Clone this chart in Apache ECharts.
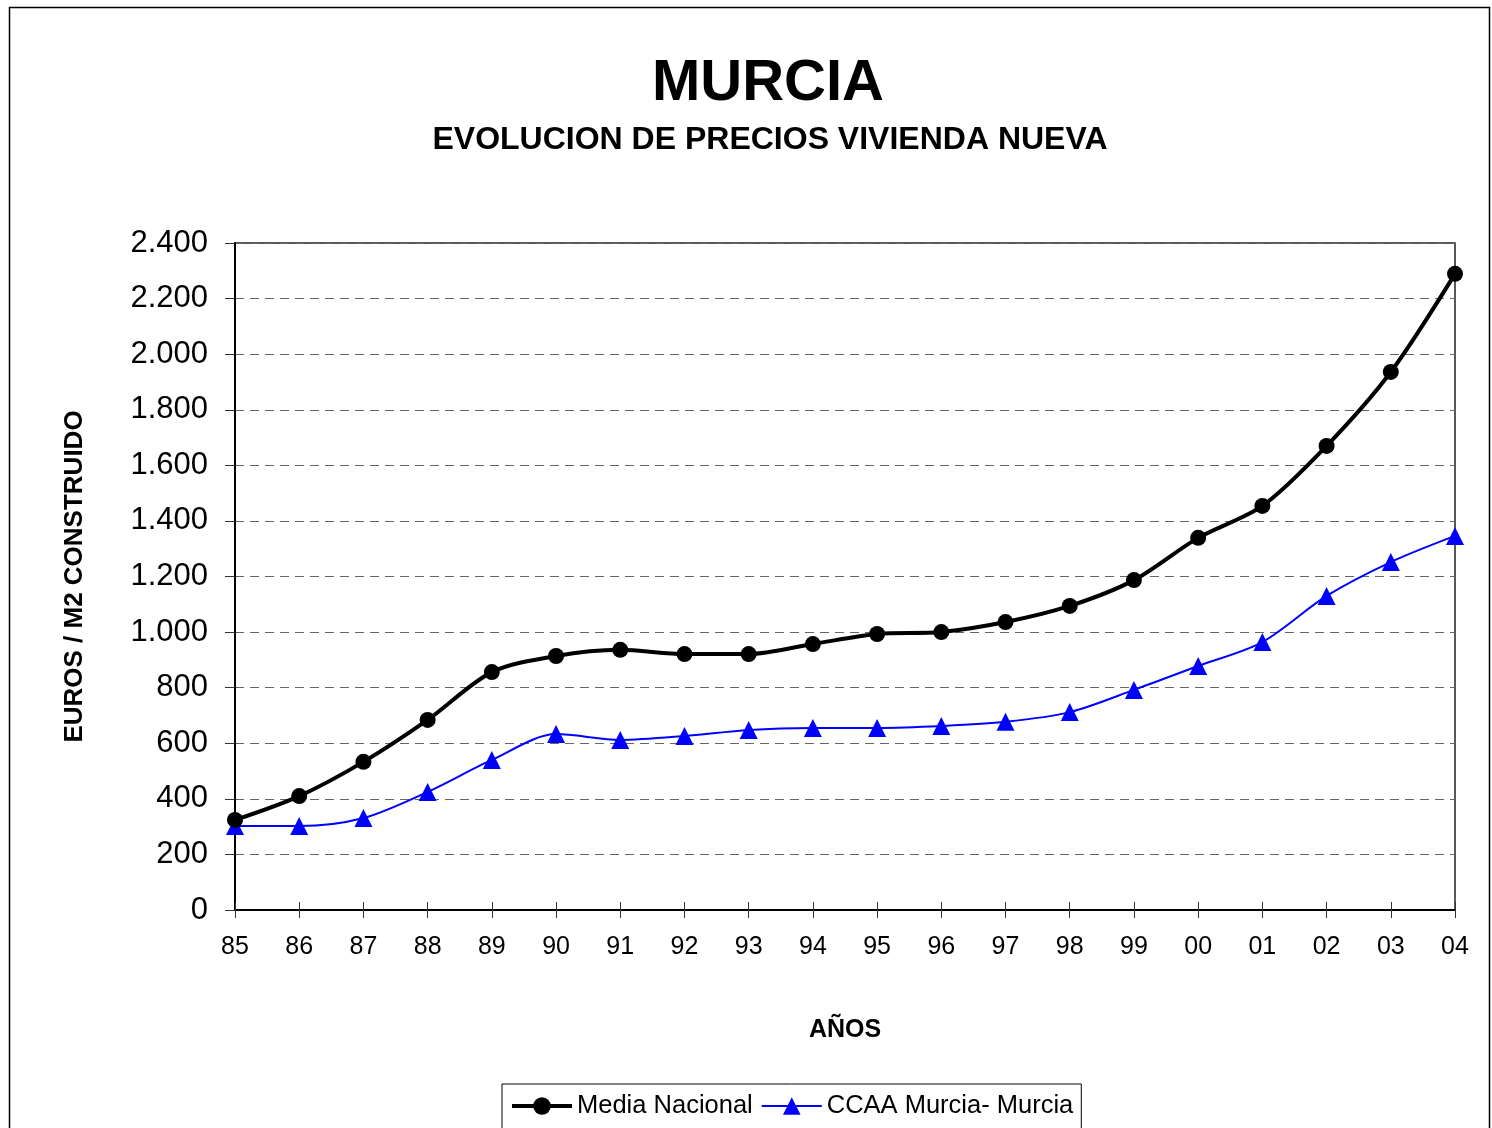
<!DOCTYPE html>
<html>
<head>
<meta charset="utf-8">
<style>
  html, body { margin: 0; padding: 0; background: #fff; }
  #chart { width: 1492px; height: 1128px; }
</style>
<script src="https://cdn.jsdelivr.net/npm/echarts@6/dist/echarts.min.js"></script>
</head>
<body>
<div id="chart"></div>
<script>
  const years = ["85", "86", "87", "88", "89", "90", "91", "92", "93", "94",
    "95", "96", "97", "98", "99", "00", "01", "02", "03", "04"];
  const mediaNacional = [324, 410, 533, 684, 856, 914, 936, 921, 921, 957,
    993, 1000, 1036, 1094, 1187, 1339, 1454, 1670, 1936, 2289];
  const ccaaMurcia = [302, 302, 331, 425, 540, 633, 612, 626, 648, 655,
    655, 662, 677, 712, 792, 878, 964, 1130, 1252, 1346];

  const font = "Liberation Sans, Arial, sans-serif";

  function thousands(value) {
    return String(value).replace(/\B(?=(\d{3})+(?!\d))/g, ".");
  }

  const chart = echarts.init(document.getElementById("chart"), null, { renderer: "canvas" });

  chart.setOption({
    backgroundColor: "#fff",
    animation: false,
    title: [
      {
        text: "MURCIA",
        left: 763,
        top: 50,
        textAlign: "center",
        textStyle: { fontFamily: font, fontSize: 58, fontWeight: "bold", color: "#000" }
      },
      {
        text: "EVOLUCION DE PRECIOS VIVIENDA NUEVA",
        left: 765,
        top: 119,
        textAlign: "center",
        textStyle: { fontFamily: font, fontSize: 32, fontWeight: "bold", color: "#000" }
      }
    ],
    graphic: [
      {
        type: "rect",
        shape: { x: 9.5, y: 7.5, width: 1480, height: 1130 },
        style: { fill: "none", stroke: "#000", lineWidth: 1.5 },
        silent: true
      }
    ],
    legend: {
      left: 502,
      top: 1084,
      itemWidth: 60,
      itemHeight: 22,
      itemGap: 8,
      padding: [9, 8, 20, 8],
      borderColor: "#000",
      borderWidth: 1,
      textStyle: { fontFamily: font, fontSize: 25.5, color: "#000" },
      data: [
        { name: "Media Nacional", lineStyle: { width: 4 } },
        { name: "CCAA Murcia- Murcia", lineStyle: { width: 2 } }
      ]
    },
    grid: { left: 235, right: 37, top: 243, bottom: 218, show: true, borderColor: "#222", borderWidth: 1.5 },
    xAxis: [
      {
        type: "category",
        data: years,
        boundaryGap: false,
        name: "AÑOS",
        nameLocation: "middle",
        nameGap: 108,
        nameTextStyle: { fontFamily: font, fontSize: 25, fontWeight: "bold", color: "#000" },
        axisLine: { lineStyle: { color: "#000", width: 2 } },
        axisTick: { show: true, length: 8, lineStyle: { color: "#333" } },
        axisLabel: { fontFamily: font, fontSize: 25, color: "#000", margin: 25 },
        splitLine: { show: false }
      },
      {
        // inner half of the crossing tick marks
        type: "category",
        data: years,
        boundaryGap: false,
        position: "bottom",
        axisLine: { show: false },
        axisTick: { show: true, inside: true, length: 8, lineStyle: { color: "#333" } },
        axisLabel: { show: false },
        splitLine: { show: false }
      }
    ],
    yAxis: {
      type: "value",
      min: 0,
      max: 2400,
      interval: 200,
      name: "EUROS / M2 CONSTRUIDO",
      nameLocation: "middle",
      nameGap: 147,
      nameTextStyle: { fontFamily: font, fontSize: 26, fontWeight: "bold", color: "#000" },
      axisLine: { show: true, lineStyle: { color: "#000", width: 2 } },
      axisTick: { show: true, length: 10, lineStyle: { color: "#333" } },
      axisLabel: { fontFamily: font, fontSize: 31, color: "#000", margin: 27, formatter: thousands },
      splitLine: { show: true, lineStyle: { color: "#666", type: [9, 6], width: 1.2 } }
    },
    series: [
      {
        name: "Media Nacional",
        type: "line",
        data: mediaNacional,
        smooth: 0.3,
        symbol: "circle",
        symbolSize: 16,
        itemStyle: { color: "#000" },
        lineStyle: { color: "#000", width: 4 },
        z: 3
      },
      {
        name: "CCAA Murcia- Murcia",
        type: "line",
        data: ccaaMurcia,
        smooth: 0.3,
        symbol: "triangle",
        symbolSize: 18,
        itemStyle: { color: "#0000ff" },
        lineStyle: { color: "#0000ff", width: 2 },
        z: 2
      }
    ]
  });
</script>
</body>
</html>
